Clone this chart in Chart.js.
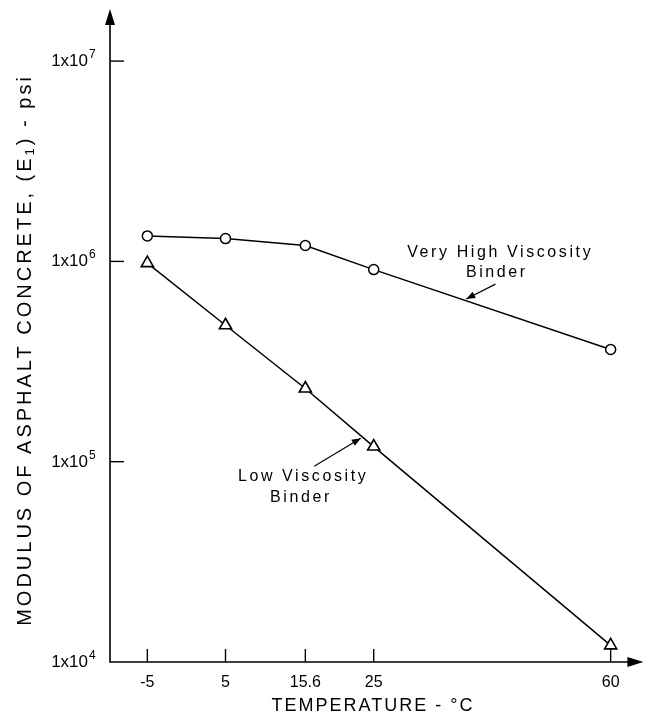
<!DOCTYPE html>
<html><head><meta charset="utf-8">
<script src="https://cdn.jsdelivr.net/npm/chart.js@4/dist/chart.umd.min.js"></script>
<style>html,body{margin:0;padding:0;background:#fff;}</style>
</head><body>
<canvas id="c" width="652" height="717"></canvas>
<script>
// ---- data ----
const temperatures = [-5, 5, 15.6, 25, 60];                 // deg C
const veryHighViscosity = [1.34e6, 1.30e6, 1.20e6, 9.1e5, 3.63e5]; // psi
const lowViscosity = [0.98e6, 4.8e5, 2.32e5, 1.19e5, 1.21e4];      // psi
const xTickValues = [-5, 5, 15.6, 25, 60];
const xTickLabels = ['-5', '5', '15.6', '25', '60'];
const yTickValues = [1e4, 1e5, 1e6, 1e7];
const yTickExponents = ['4', '5', '6', '7'];
const seriesNames = ['Very High Viscosity Binder', 'Low Viscosity Binder'];

// the temperature axis of the original is spaced on log(absolute temperature)
const toK = t => t + 273.15;
const FONT = '"Liberation Sans", Arial, Helvetica, sans-serif';

function arrowHead(ctx, x1, y1, x2, y2, len, half) {
  const a = Math.atan2(y2 - y1, x2 - x1);
  ctx.beginPath();
  ctx.moveTo(x2, y2);
  ctx.lineTo(x2 - len * Math.cos(a) + half * Math.sin(a), y2 - len * Math.sin(a) - half * Math.cos(a));
  ctx.lineTo(x2 - len * Math.cos(a) - half * Math.sin(a), y2 - len * Math.sin(a) + half * Math.cos(a));
  ctx.closePath();
  ctx.fill();
}

function spacedText(ctx, txt, x, y, spacing) {
  try { ctx.letterSpacing = spacing + 'px'; } catch (e) {}
  ctx.fillText(txt, x, y);
  try { ctx.letterSpacing = '0px'; } catch (e) {}
}

const decor = {
  id: 'decor',
  afterDraw(chart) {
    const ctx = chart.ctx;
    const xs = chart.scales.x, ys = chart.scales.y;
    const area = chart.chartArea;
    ctx.save();
    ctx.strokeStyle = '#000';
    ctx.fillStyle = '#000';
    ctx.lineWidth = 1.6;
    // axes
    ctx.beginPath();
    ctx.moveTo(area.left, area.top + 8);
    ctx.lineTo(area.left, area.bottom);
    ctx.lineTo(area.right - 8, area.bottom);
    ctx.stroke();
    arrowHead(ctx, area.left, area.bottom, area.left, area.top, 16, 5);
    arrowHead(ctx, area.left, area.bottom, area.right, area.bottom, 16, 5);

    // x ticks + labels
    ctx.lineWidth = 1.4;
    ctx.font = '16px ' + FONT;
    ctx.textAlign = 'center';
    ctx.textBaseline = 'middle';
    xTickValues.forEach((v, i) => {
      const px = xs.getPixelForValue(toK(v));
      ctx.beginPath();
      ctx.moveTo(px, area.bottom);
      ctx.lineTo(px, area.bottom - 13);
      ctx.stroke();
      ctx.fillText(xTickLabels[i], px, area.bottom + 21);
    });

    // y ticks + labels
    yTickValues.forEach((v, i) => {
      const py = ys.getPixelForValue(v);
      if (i > 0) {
        ctx.beginPath();
        ctx.moveTo(area.left, py);
        ctx.lineTo(area.left + 14, py);
        ctx.stroke();
      }
      ctx.font = '17px ' + FONT;
      ctx.textAlign = 'right';
      ctx.textBaseline = 'alphabetic';
      ctx.fillText('1x10', area.left - 22, py + 5);
      ctx.font = '12px ' + FONT;
      ctx.textAlign = 'left';
      ctx.fillText(yTickExponents[i], area.left - 21, py - 3);
    });

    // x title
    ctx.font = '18px ' + FONT;
    ctx.textAlign = 'center';
    ctx.textBaseline = 'middle';
    spacedText(ctx, 'TEMPERATURE - \u00B0C', 373, 706, 2);

    // y title with subscript
    ctx.save();
    ctx.translate(25, 350);
    ctx.rotate(-Math.PI / 2);
    try { ctx.letterSpacing = '3px'; } catch (e) {}
    const p1 = 'MODULUS OF ASPHALT CONCRETE, (E', p2 = '1', p3 = ') - psi';
    ctx.font = '20px ' + FONT;
    const w1 = ctx.measureText(p1).width, w3 = ctx.measureText(p3).width;
    ctx.font = '13px ' + FONT;
    const w2 = ctx.measureText(p2).width;
    let sx = -(w1 + w2 + w3) / 2;
    ctx.textAlign = 'left';
    ctx.textBaseline = 'middle';
    ctx.font = '20px ' + FONT;
    ctx.fillText(p1, sx, 0); sx += w1;
    ctx.font = '13px ' + FONT;
    ctx.fillText(p2, sx, 5); sx += w2;
    ctx.font = '20px ' + FONT;
    ctx.fillText(p3, sx, 0);
    ctx.restore();

    // annotations (anchored in data space: deg C, psi)
    const P = (t, v) => [xs.getPixelForValue(toK(t)), ys.getPixelForValue(v)];
    ctx.font = '16px ' + FONT;
    ctx.textAlign = 'center';
    ctx.textBaseline = 'middle';
    let p = P(43.2, 1.11e6); spacedText(ctx, 'Very High Viscosity', p[0], p[1], 2.6);
    p = P(42.7, 8.83e5); spacedText(ctx, 'Binder', p[0], p[1], 2.6);
    p = P(15.3, 8.45e4); spacedText(ctx, 'Low Viscosity', p[0], p[1], 2.6);
    p = P(15.0, 6.6e4); spacedText(ctx, 'Binder', p[0], p[1], 2.6);

    ctx.lineWidth = 1.2;
    let a = P(42.5, 7.7e5), b = P(38.2, 6.49e5);
    ctx.beginPath(); ctx.moveTo(a[0], a[1]); ctx.lineTo(b[0], b[1]); ctx.stroke();
    arrowHead(ctx, a[0], a[1], b[0], b[1], 9, 3.5);
    a = P(16.8, 9.5e4); b = P(23.2, 1.31e5);
    ctx.beginPath(); ctx.moveTo(a[0], a[1]); ctx.lineTo(b[0], b[1]); ctx.stroke();
    arrowHead(ctx, a[0], a[1], b[0], b[1], 9, 3.5);
    ctx.restore();
  }
};

new Chart(document.getElementById('c'), {
  type: 'line',
  data: {
    datasets: [
      {
        label: seriesNames[0],
        data: temperatures.map((t, i) => ({ x: toK(t), y: veryHighViscosity[i] })),
        borderColor: '#000', borderWidth: 1.5,
        pointStyle: 'circle', pointRadius: 5,
        pointBackgroundColor: '#fff', pointBorderColor: '#000', pointBorderWidth: 1.5,
        tension: 0
      },
      {
        label: seriesNames[1],
        data: temperatures.map((t, i) => ({ x: toK(t), y: lowViscosity[i] })),
        borderColor: '#000', borderWidth: 1.5,
        pointStyle: 'triangle', pointRadius: 7,
        pointBackgroundColor: '#fff', pointBorderColor: '#000', pointBorderWidth: 1.6,
        tension: 0
      }
    ]
  },
  options: {
    responsive: false,
    animation: false,
    layout: { padding: { left: 110, right: 2, top: 9, bottom: 55 } },
    scales: {
      x: { type: 'logarithmic', min: 263.5, max: 338.3, display: false },
      y: { type: 'logarithmic', min: 1e4, max: 1.82e7, display: false }
    },
    plugins: { legend: { display: false }, tooltip: { enabled: false } }
  },
  plugins: [decor]
});
</script>
</body></html>
